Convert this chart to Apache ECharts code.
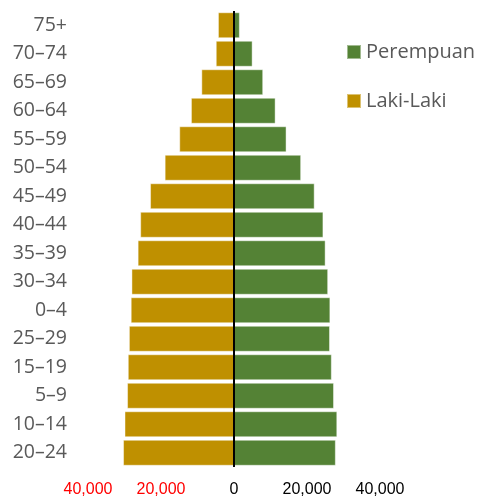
<!DOCTYPE html>
<html>
<head>
<meta charset="utf-8">
<script src="https://cdn.jsdelivr.net/npm/echarts@6/dist/echarts.min.js"></script>
<style>
  html, body { margin: 0; padding: 0; background: #fff; }
  #content { width: 485px; height: 502px; }
</style>
</head>
<body>
<div id="content"></div>
<script>
// age groups, top to bottom as in the picture
const ageGroups = ['75+', '70–74', '65–69', '60–64', '55–59', '50–54', '45–49', '40–44',
  '35–39', '30–34', '0–4', '25–29', '15–19', '5–9', '10–14', '20–24']
const perempuan = [1600, 5100, 8000, 11400, 14400, 18400, 22100, 24500,
  25100, 25800, 26400, 26300, 26800, 27400, 28300, 27900]
const lakiLaki = [4400, 5000, 8950, 11800, 15000, 19000, 23000, 25700,
  26400, 28100, 28300, 28800, 29100, 29300, 30000, 30400]
const xTicks = [-40000, -20000, 0, 20000, 40000]

const chart = echarts.init(document.getElementById('content'))

chart.setOption({
  animation: false,
  legend: {
    orient: 'vertical',
    left: 346,
    top: 42,
    padding: 0,
    itemWidth: 14,
    itemHeight: 14,
    itemGap: 29,
    icon: 'rect',
    textStyle: { color: '#595959', fontSize: 20, fontFamily: 'Open Sans' },
    data: ['Perempuan', 'Laki-Laki']
  },
  grid: { left: 88, width: 292, top: 11, bottom: 35 },
  xAxis: {
    type: 'value',
    min: xTicks[0],
    max: xTicks[xTicks.length - 1],
    interval: 20000,
    splitLine: { show: false },
    axisLine: { show: false },
    axisTick: { show: false },
    axisLabel: {
      margin: 15,
      fontSize: 16,
      fontFamily: 'Liberation Sans',
      color: function (v) { return v < 0 ? '#ff0000' : '#000000' },
      formatter: function (v) { return echarts.format.addCommas(Math.abs(v)) }
    }
  },
  yAxis: {
    type: 'category',
    inverse: true,
    data: ageGroups,
    axisLine: { show: false },
    axisTick: { show: false },
    axisLabel: { margin: 21, fontSize: 19.5, fontFamily: 'Open Sans', color: '#595959' }
  },
  series: [
    {
      name: 'Perempuan',
      type: 'bar',
      stack: 'pop',
      barWidth: 26,
      itemStyle: { color: '#548235', borderColor: 'rgba(255,255,255,0.45)', borderWidth: 1 },
      data: perempuan,
      markLine: {
        silent: true,
        symbol: 'none',
        label: { show: false },
        lineStyle: { color: '#000', width: 2, type: 'solid' },
        data: [{ xAxis: 0 }]
      },
      z: 2
    },
    {
      name: 'Laki-Laki',
      type: 'bar',
      stack: 'pop',
      barWidth: 26,
      itemStyle: { color: '#bf9000', borderColor: 'rgba(255,255,255,0.45)', borderWidth: 1 },
      data: lakiLaki.map(v => -v)
    }
  ]
})
</script>
</body>
</html>
